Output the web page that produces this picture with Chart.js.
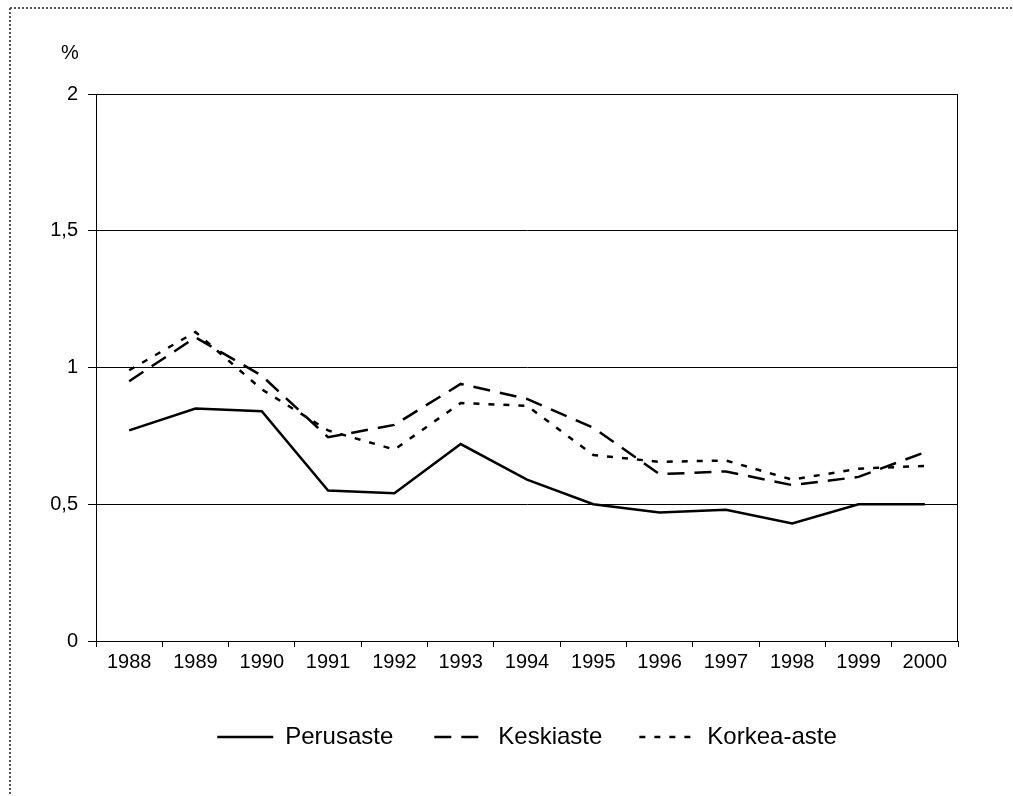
<!DOCTYPE html>
<html>
<head>
<meta charset="utf-8">
<script src="https://cdn.jsdelivr.net/npm/chart.js@4"></script>
<style>
  body { margin: 0; background: #fff; }
  #chart { display: block; }
</style>
</head>
<body>
<canvas id="chart" width="1013" height="796"></canvas>
<script>
// datos del grafico
var vuodet = ['1988', '1989', '1990', '1991', '1992', '1993', '1994', '1995', '1996', '1997', '1998', '1999', '2000'];
var perusaste = [0.77, 0.85, 0.84, 0.55, 0.54, 0.72, 0.59, 0.50, 0.47, 0.48, 0.43, 0.50, 0.50];
var keskiaste = [0.95, 1.11, 0.97, 0.745, 0.79, 0.94, 0.885, 0.78, 0.61, 0.62, 0.57, 0.60, 0.69];
var korkeaAste = [0.99, 1.13, 0.92, 0.77, 0.70, 0.87, 0.86, 0.68, 0.655, 0.66, 0.59, 0.63, 0.64];
var yTicks = [0, 0.5, 1, 1.5, 2];

var fuente = '"Liberation Sans", Arial, sans-serif';

// marco punteado y simbolo %
var extras = {
  id: 'extras',
  afterLayout: function (chart) {
    // centrar la leyenda bajo el area del grafico
    var lg = chart.legend;
    var shift = (chart.chartArea.left + chart.chartArea.right) / 2 - (lg.left + lg.right) / 2;
    lg.left += shift;
    lg.right += shift;
  },
  afterDraw: function (chart) {
    var ctx = chart.ctx;
    var a = chart.chartArea;
    ctx.save();
    ctx.strokeStyle = '#000';
    ctx.lineWidth = 1;
    ctx.strokeRect(a.left + 0.5, a.top + 0.5, a.right - a.left - 1, a.bottom - a.top);

    ctx.strokeStyle = '#555';
    ctx.lineWidth = 2;
    ctx.setLineDash([2, 2]);
    ctx.beginPath();
    ctx.moveTo(10, 8);
    ctx.lineTo(1013, 8);
    ctx.moveTo(10, 8);
    ctx.lineTo(10, 796);
    ctx.stroke();

    ctx.setLineDash([]);
    ctx.fillStyle = '#000';
    ctx.font = '20px ' + fuente;
    ctx.textAlign = 'center';
    ctx.textBaseline = 'middle';
    ctx.fillText('%', 70, 53);
    ctx.restore();
  }
};

var ctx = document.getElementById('chart');
var grafico = new Chart(ctx, {
  type: 'line',
  data: {
    labels: vuodet,
    datasets: [{
      label: 'Perusaste',
      data: perusaste,
      borderColor: '#000',
      backgroundColor: '#000',
      borderWidth: 2.5,
      pointRadius: 0,
      tension: 0
    }, {
      label: 'Keskiaste',
      data: keskiaste,
      borderColor: '#000',
      backgroundColor: '#000',
      borderWidth: 2.5,
      borderDash: [17, 10],
      pointRadius: 0,
      tension: 0
    }, {
      label: 'Korkea-aste',
      data: korkeaAste,
      borderColor: '#000',
      backgroundColor: '#000',
      borderWidth: 2.5,
      borderDash: [6, 9],
      pointRadius: 0,
      tension: 0
    }]
  },
  options: {
    responsive: false,
    animation: false,
    devicePixelRatio: 1,
    layout: { padding: { top: 94, right: 55, bottom: 37, left: 0 } },
    plugins: {
      tooltip: { enabled: false },
      legend: {
        position: 'bottom',
        labels: {
          usePointStyle: true,
          pointStyle: 'line',
          pointStyleWidth: 56,
          padding: 37,
          color: '#000',
          font: { family: fuente, size: 24 },
          // la muestra de la leyenda usa el mismo trazo que la linea
          generateLabels: function (chart) {
            var items = Chart.defaults.plugins.legend.labels.generateLabels(chart);
            items.forEach(function (it) {
              var ds = chart.data.datasets[it.datasetIndex];
              it.lineDash = ds.borderDash || [];
              it.lineDashOffset = ds.borderDash && ds.borderDash[0] > 10 ? -4 : 0;
              it.lineWidth = ds.borderWidth;
              it.strokeStyle = ds.borderColor;
            });
            return items;
          }
        }
      }
    },
    scales: {
      x: {
        offset: true,
        grid: { offset: true, drawOnChartArea: false, color: '#000', tickLength: 6 },
        border: { color: '#000' },
        ticks: { color: '#000', padding: 3, maxRotation: 0, font: { family: fuente, size: 20 } },
        afterFit: function (scale) { scale.height = 47; }
      },
      y: {
        min: 0,
        max: 2,
        afterBuildTicks: function (scale) {
          scale.ticks = yTicks.map(function (v) { return { value: v }; });
        },
        grid: { color: '#000', lineWidth: 1, tickLength: 8 },
        border: { color: '#000' },
        ticks: {
          color: '#000',
          padding: 10,
          font: { family: fuente, size: 20 },
          callback: function (v) { return String(v).replace('.', ','); }
        },
        afterFit: function (scale) { scale.width = 96; }
      }
    }
  },
  plugins: [extras]
});
</script>
</body>
</html>
